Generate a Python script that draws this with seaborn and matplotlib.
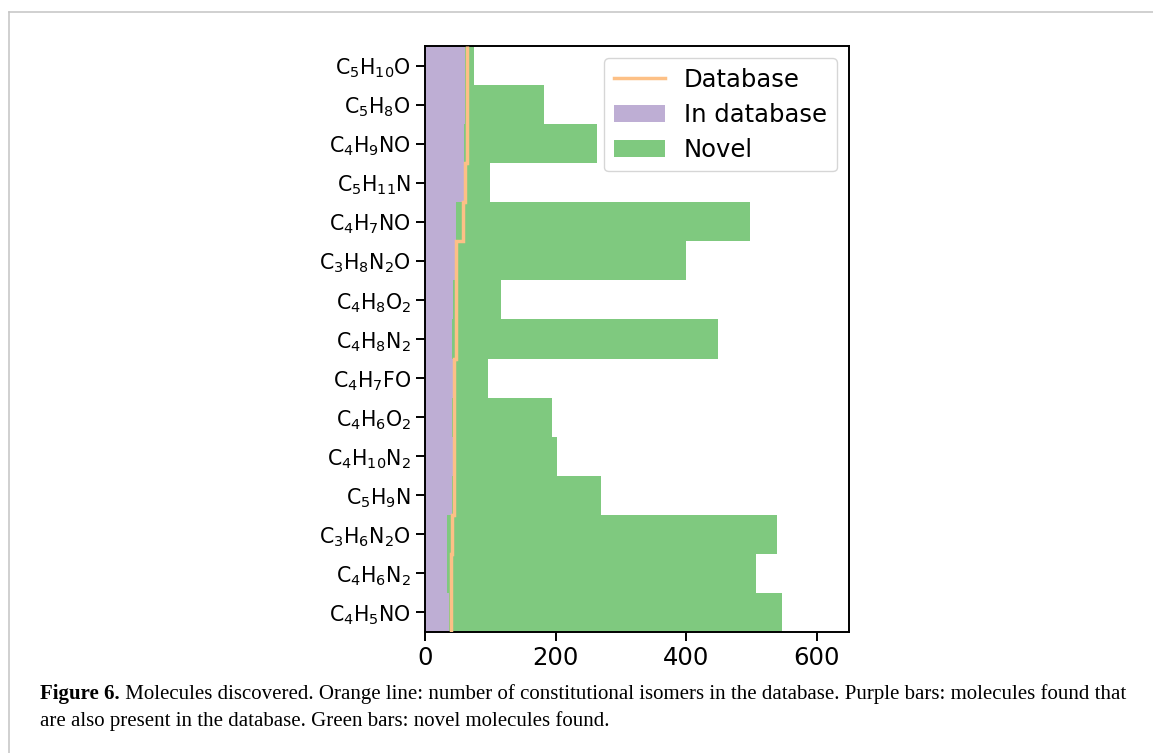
import matplotlib
matplotlib.use("Agg")
import matplotlib.pyplot as plt
from matplotlib.lines import Line2D
import numpy as np
import pandas as pd
import seaborn as sns

# molecular formulas, top to bottom
formulas = ["C$_5$H$_{10}$O", "C$_5$H$_8$O", "C$_4$H$_9$NO", "C$_5$H$_{11}$N",
            "C$_4$H$_7$NO", "C$_3$H$_8$N$_2$O", "C$_4$H$_8$O$_2$", "C$_4$H$_8$N$_2$",
            "C$_4$H$_7$FO", "C$_4$H$_6$O$_2$", "C$_4$H$_{10}$N$_2$", "C$_5$H$_9$N",
            "C$_3$H$_6$N$_2$O", "C$_4$H$_6$N$_2$", "C$_4$H$_5$NO"]
# isomers in the database (orange line)
database = [65, 65, 64, 62, 58, 48, 47, 47, 45, 45, 45, 44, 42, 40, 40]
# found and also in the database (purple)
in_database = [62, 62, 59, 59, 48, 46, 43, 42, 43, 41, 43, 41, 33, 33, 37]
# novel molecules found (green, stacked after purple)
novel = [13, 120, 204, 40, 450, 353, 73, 407, 53, 153, 159, 229, 506, 474, 510]

green = "#7fc97f"
purple = "#beaed4"
orange = "#fdc086"

df = pd.DataFrame({"formula": formulas, "database": database,
                   "in_db": in_database, "novel": novel})
df["total"] = df["in_db"] + df["novel"]

fig = plt.figure(figsize=(11.53, 7.53), dpi=100)
ax = fig.add_axes([0.3686, 0.1607, 0.3677, 0.7782])

sns.barplot(data=df, x="total", y="formula", orient="h", color=green,
            saturation=1, width=1, ax=ax, label="Novel")
sns.barplot(data=df, x="in_db", y="formula", orient="h", color=purple,
            saturation=1, width=1, ax=ax, label="In database")
ax.stairs(df["database"], np.arange(-0.5, len(df) + 0.5), orientation="horizontal",
          baseline=None, color=orange, lw=2.5, label="Database", zorder=5)

ax.set_xlim(0, 649)
ax.set_ylim(len(df) - 0.5, -0.5)
ax.set_xlabel("")
ax.set_ylabel("")
ax.set_xticks([0, 200, 400, 600])
ax.tick_params(axis="x", labelsize=17.5, length=6.5, width=1.4)
ax.tick_params(axis="y", labelsize=14.8, length=6.5, width=1.4)
for s in ax.spines.values():
    s.set_linewidth(1.4)

h, l = ax.get_legend_handles_labels()
order = [l.index("Database"), l.index("In database"), l.index("Novel")]
ax.legend([h[i] for i in order], [l[i] for i in order], loc="upper right",
          fontsize=17.5, handlelength=2.1, borderpad=0.4, labelspacing=0.45)

# page border
fig.add_artist(Line2D([0.0075, 1.0], [0.9834, 0.9834], color="#c4c4c4", lw=1.1,
                      transform=fig.transFigure))
fig.add_artist(Line2D([0.0075, 0.0075], [0.0, 0.9834], color="#c4c4c4", lw=1.1,
                      transform=fig.transFigure))

# caption
cap_font = "Liberation Serif"
t1 = fig.text(40 / 1153, 1 - 699 / 753, "Figure 6.", fontsize=15,
              fontweight="bold", family=cap_font, va="baseline")
ax.annotate(" Molecules discovered. Orange line: number of constitutional isomers in the "
            "database. Purple bars: molecules found that",
            xy=(1, 0), xycoords=t1, va="bottom", ha="left", fontsize=15,
            family=cap_font, annotation_clip=False)
fig.text(40 / 1153, 1 - 726 / 753,
         "are also present in the database. Green bars: novel molecules found.",
         fontsize=15, family=cap_font, va="baseline")

fig.savefig("out.png", dpi=100)
